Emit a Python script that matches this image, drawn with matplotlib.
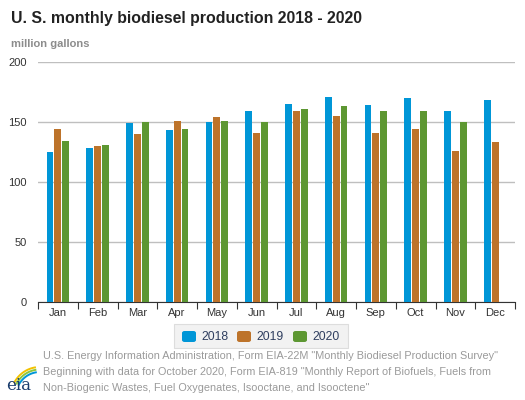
import numpy as np
import matplotlib
matplotlib.use('Agg')
import matplotlib.pyplot as plt
from matplotlib.patches import FancyBboxPatch, Rectangle

months = ['Jan', 'Feb', 'Mar', 'Apr', 'May', 'Jun', 'Jul', 'Aug', 'Sep', 'Oct', 'Nov', 'Dec']
prod_2018 = [125, 128, 149, 143, 150, 159, 165, 171, 164, 170, 159, 168]
prod_2019 = [144, 130, 140, 151, 154, 141, 159, 155, 141, 144, 126, 133]
prod_2020 = [134, 131, 150, 144, 151, 150, 161, 163, 159, 159, 150, np.nan]
years = ['2018', '2019', '2020']
colors = ['#0096d7', '#bd732a', '#5d9732']

plt.rcParams['font.family'] = ['Liberation Sans', 'DejaVu Sans']

fig = plt.figure(figsize=(5.25, 4), dpi=100)
ax = fig.add_axes([38 / 525, 98 / 400, 477 / 525, 240 / 400])

x = np.arange(len(months))
w = 0.17
step = 0.2
for i, (vals, c) in enumerate(zip([prod_2018, prod_2019, prod_2020], colors)):
    ax.bar(x + (i - 1) * step, vals, width=w, color=c, zorder=3, linewidth=0)

ax.set_xlim(-0.5, 11.5)
ax.set_ylim(0, 200)
ax.set_yticks([0, 50, 100, 150, 200])
ax.yaxis.grid(True, color='#bfbfbf', linewidth=1, zorder=0)
ax.tick_params(axis='y', length=0, labelsize=8, labelcolor='#333333', pad=8)

ax.set_xticks(np.arange(-0.5, 12, 1))
ax.set_xticklabels([])
ax.tick_params(axis='x', which='major', length=5, color='#333333', direction='out')
ax.set_xticks(x, minor=True)
ax.set_xticklabels(months, minor=True)
ax.tick_params(axis='x', which='minor', length=0, labelsize=8, labelcolor='#333333', pad=4)

for s in ['top', 'right', 'left']:
    ax.spines[s].set_visible(False)
ax.spines['bottom'].set_color('#333333')

fig.text(11 / 525, 1 - 19 / 400, 'U. S. monthly biodiesel production 2018 - 2020',
         fontsize=11.4, fontweight='bold', color='#222222', va='center')
fig.text(11 / 525, 1 - 44 / 400, 'million gallons', fontsize=8, fontweight='bold',
         color='#8c8c8c', va='center')

# legend box
fig.patches.append(Rectangle((174 / 525, 1 - 348 / 400), 174 / 525, 24 / 400,
                             transform=fig.transFigure, facecolor='#f2f2f2',
                             edgecolor='#dddddd', linewidth=0.8))
lx = [182, 237, 293]
for px, c, yr in zip(lx, colors, years):
    fig.patches.append(FancyBboxPatch((px / 525, 1 - 342 / 400), 14 / 525, 11 / 400,
                                      boxstyle='round,pad=0,rounding_size=0.005',
                                      transform=fig.transFigure, facecolor=c,
                                      edgecolor='none'))
    fig.text((px + 19) / 525, 1 - 337 / 400, yr, fontsize=8.7, color='#2f3e5f',
             va='center')

src = ['U.S. Energy Information Administration, Form EIA-22M "Monthly Biodiesel Production Survey"',
       'Beginning with data for October 2020, Form EIA-819 "Monthly Report of Biofuels, Fuels from',
       'Non-Biogenic Wastes, Fuel Oxygenates, Isooctane, and Isooctene"']
for i, line in enumerate(src):
    fig.text(43 / 525, 1 - (356 + 16 * i) / 400, line, fontsize=7.85, color='#9a9a9a',
             va='center')

# eia logo
fig.text(19 / 525, 1 - 386 / 400, 'eia', fontsize=12, family='DejaVu Serif',
         color='#1a3d6d', ha='center', va='center')
t = np.radians(np.linspace(100, 152, 30))
for r, c in [(29, '#f2c200'), (26.5, '#8cc63f'), (24, '#0096d7')]:
    xs = (40 + r * np.cos(t)) / 525
    ys = 1 - (396 - r * np.sin(t)) / 400
    fig.add_artist(plt.Line2D(xs, ys, color=c, linewidth=1.4, transform=fig.transFigure))

fig.savefig('out.png', dpi=100)
